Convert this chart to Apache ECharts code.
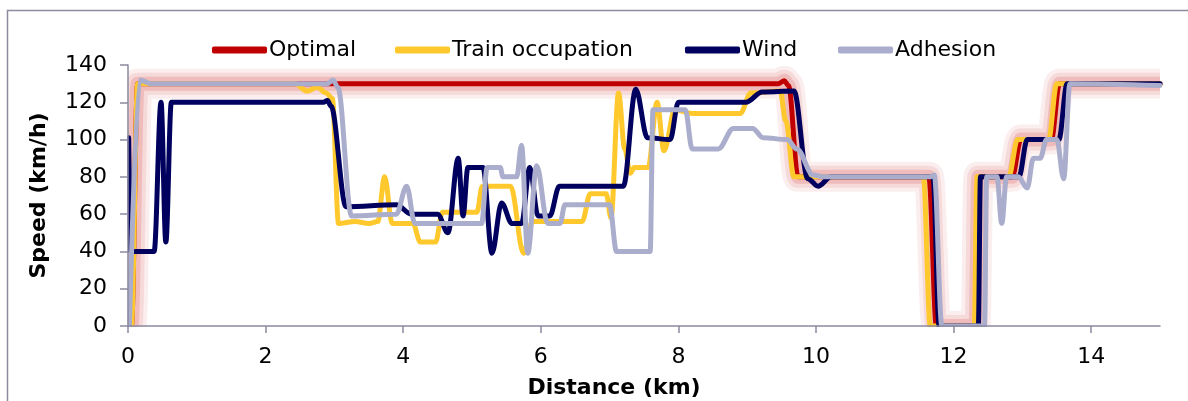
<!DOCTYPE html>
<html>
<head>
<meta charset="utf-8">
<title>Speed profiles</title>
<script src="https://cdn.jsdelivr.net/npm/echarts@6/dist/echarts.min.js"></script>
<style>
  html, body { margin: 0; padding: 0; background: #ffffff; }
  #chart { width: 1188px; height: 401px; }
</style>
</head>
<body>
<div id="chart"></div>
<script>
// Speed profiles along the line: distance (km) and speed (km/h) for each strategy
const seriesNames = ['Optimal', 'Train occupation', 'Wind', 'Adhesion'];

const optimalKm    = [0.02, 0.05, 0.14, 9.45, 9.54, 9.6, 9.74, 11.64, 11.75, 12.32, 12.36, 12.85, 12.98, 13.42, 13.54, 15];
const optimalSpeed = [0, 0, 130, 130, 131.5, 129, 80, 80, 0, 0, 80, 80, 100, 100, 130, 130];

const occupationKm    = [0.02, 0.05, 0.14, 2.43, 2.6, 2.75, 2.88, 2.97, 3.06, 3.3, 3.5, 3.63, 3.73, 3.84, 4.14, 4.25, 4.47, 4.57, 5.07, 5.15, 5.56, 5.75, 5.88, 6.6, 6.72, 6.95, 7.02, 7.13, 7.22, 7.3, 7.36, 7.56, 7.69, 7.79, 7.95, 8.2, 8.9, 9.05, 9.48, 9.56, 9.68, 11.56, 11.66, 12.3, 12.34, 12.8, 12.93, 13.38, 13.5, 15];
const occupationSpeed = [0, 0, 130, 130, 126, 128, 125, 122, 55, 56, 55, 56, 80, 55, 55, 45, 45, 61, 61, 75, 75, 39, 56, 56, 71, 71, 58, 125, 95, 82, 85, 85, 120, 94, 116, 114, 114, 125, 126, 110, 80, 80, 0, 0, 80, 80, 100, 100, 130, 130];

const windKm    = [0.01, 0.04, 0.38, 0.48, 0.55, 0.63, 2.84, 2.9, 2.95, 3.17, 3.9, 4.12, 4.5, 4.65, 4.8, 4.87, 4.94, 5.16, 5.29, 5.43, 5.58, 5.72, 5.84, 5.96, 6.13, 6.27, 7.2, 7.38, 7.55, 7.88, 8.0, 8.98, 9.22, 9.68, 9.88, 10.03, 10.22, 11.7, 11.79, 12.36, 12.39, 12.95, 13.07, 13.53, 13.65, 15];
const windSpeed = [101, 40, 40, 120, 45, 120, 120, 121, 118, 64, 65, 60, 60, 50, 90, 59, 85, 85, 39, 66, 55, 55, 85, 59, 59, 75, 75, 127, 101, 100, 120, 120, 125.5, 126, 79, 75, 80, 80, 0, 0, 80, 80, 100, 100, 130, 130];

const adhesionKm    = [0.02, 0.17, 0.33, 2.9, 2.98, 3.05, 3.25, 3.9, 4.05, 4.17, 5.14, 5.22, 5.41, 5.45, 5.65, 5.72, 5.81, 5.94, 6.1, 6.28, 6.35, 7.0, 7.1, 7.59, 7.63, 8.1, 8.2, 8.58, 8.8, 9.08, 9.23, 9.58, 9.72, 9.96, 10.1, 11.66, 11.72, 11.83, 12.45, 12.48, 12.63, 12.7, 12.77, 12.94, 13.07, 13.16, 13.26, 13.35, 13.5, 13.6, 13.69, 15];
const adhesionSpeed = [0, 132, 130, 130, 132, 128, 59, 60, 75, 55, 55, 85, 85, 80, 80, 97, 39, 86, 55, 55, 65, 65, 40, 40, 116, 116, 95, 95, 106, 106, 101, 100, 95, 81, 80, 80, 81, 0, 0, 80, 80, 55, 80, 80, 74, 90, 90, 100, 100, 79, 130, 129];

const distanceTicks = [0, 2, 4, 6, 8, 10, 12, 14];

const zip = (xs, ys) => xs.map((x, i) => [x, ys[i]]);

const axisGray = '#8a8aa0';
const font = "'DejaVu Sans', 'Liberation Sans', Arial, sans-serif";

const baseLine = (name, xs, ys, color, width, z, cap) => ({
  name: name,
  type: 'line',
  data: zip(xs, ys),
  symbol: 'none',
  smooth: 0.35,
  smoothMonotone: 'x',
  color: color,
  lineStyle: { color: color, width: width, cap: cap || 'round', join: 'round' },
  emphasis: { disabled: true },
  silent: true,
  animation: false,
  z: z
});

// soft pink glow under the optimal profile, built from stacked translucent strokes
const haloLayers = [
  { width: 30, color: 'rgba(220, 100, 100, 0.11)' },
  { width: 22, color: 'rgba(220, 100, 100, 0.15)' },
  { width: 14, color: 'rgba(220, 100, 100, 0.26)' }
];
const haloSeries = haloLayers.map((h, i) =>
  baseLine('Optimal glow ' + (i + 1), optimalKm, optimalSpeed, h.color, h.width, 1, 'butt'));

// one legend block per entry so each icon sits at its own x position
const legendLefts = [207, 390, 680, 833];
const legends = seriesNames.map((n, i) => ({
  data: [n],
  left: legendLefts[i],
  top: 34,
  icon: 'roundRect',
  itemWidth: 55,
  itemHeight: 7,
  selectedMode: false,
  textStyle: { fontSize: 22, color: '#000000', fontFamily: font, padding: [0, 0, 0, -3] }
}));

const chart = echarts.init(document.getElementById('chart'), null, { renderer: 'canvas' });

chart.setOption({
  backgroundColor: '#ffffff',
  animation: false,
  textStyle: { fontFamily: font },
  graphic: [
    {
      type: 'rect',
      shape: { x: 7.5, y: 10.5, width: 1240, height: 440 },
      style: { fill: 'none', stroke: '#8c8ca0', lineWidth: 1.5 },
      silent: true,
      z: -1
    },
    // keep the glow inside the plotting area (below the x axis, left of the y axis)
    {
      type: 'rect',
      shape: { x: 100, y: 327, width: 1088, height: 20 },
      style: { fill: '#ffffff' },
      silent: true,
      z: 6
    },
    {
      type: 'rect',
      shape: { x: 108, y: 60, width: 19.5, height: 280 },
      style: { fill: '#ffffff' },
      silent: true,
      z: 6
    }
  ],
  legend: legends,
  grid: { left: 128, right: 28, top: 65, bottom: 75, containLabel: false, outerBoundsMode: 'none' },
  xAxis: {
    type: 'value',
    min: 0,
    max: 15,
    name: 'Distance (km)',
    nameLocation: 'middle',
    nameGap: 51,
    nameTextStyle: { fontSize: 22, fontWeight: 'bold', color: '#000000', fontFamily: font, padding: [0, 60, 0, 0] },
    axisLine: { show: true, lineStyle: { color: axisGray, width: 1.5 } },
    axisTick: { show: true, length: 7, lineStyle: { color: axisGray, width: 1.5 }, customValues: distanceTicks },
    axisLabel: { fontSize: 22, color: '#000000', margin: 20, fontFamily: font, customValues: distanceTicks },
    splitLine: { show: false },
    z: 10
  },
  yAxis: {
    type: 'value',
    min: 0,
    max: 140,
    interval: 20,
    name: 'Speed (km/h)',
    nameLocation: 'middle',
    nameGap: 78,
    nameRotate: 90,
    nameTextStyle: { fontSize: 22, fontWeight: 'bold', color: '#000000', fontFamily: font },
    axisLine: { show: true, lineStyle: { color: axisGray, width: 1.5 } },
    axisTick: { show: true, length: 8, lineStyle: { color: axisGray, width: 1.5 } },
    axisLabel: { fontSize: 22, color: '#000000', margin: 21, fontFamily: font },
    splitLine: { show: false },
    z: 10
  },
  series: haloSeries.concat([
    baseLine('Optimal', optimalKm, optimalSpeed, '#c00000', 5, 2),
    baseLine('Train occupation', occupationKm, occupationSpeed, '#ffc92e', 5, 3),
    baseLine('Wind', windKm, windSpeed, '#00005e', 5, 4),
    baseLine('Adhesion', adhesionKm, adhesionSpeed, '#aaadcc', 5, 5)
  ])
});
</script>
</body>
</html>
